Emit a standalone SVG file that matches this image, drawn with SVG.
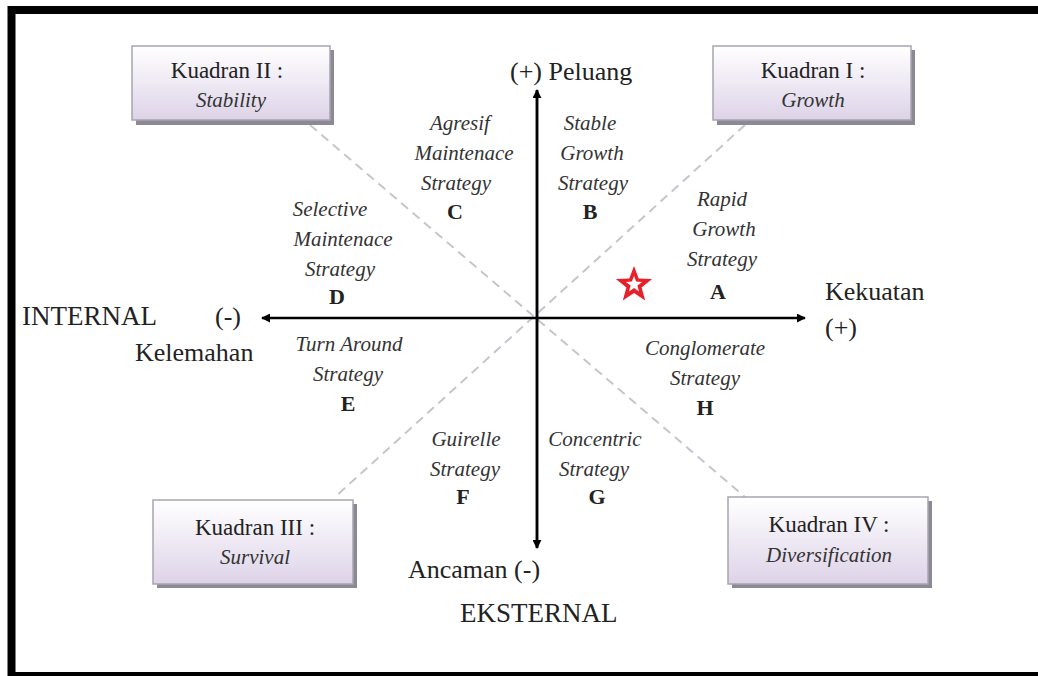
<svg xmlns="http://www.w3.org/2000/svg" width="1038" height="676" viewBox="0 0 1038 676">
<style>
.t{font-family:"Liberation Serif","Times New Roman",serif;fill:#222;font-size:26px}
.k{font-size:23px}
.i{font-style:italic;fill:#333;font-size:21px}
.b{font-weight:bold;font-size:22px}
.big{font-size:27px}
.box{fill:url(#g);stroke:#a8a4b0;stroke-width:1.5}
.sh{fill:#8c8894}
.dash{stroke:#c4c6cc;stroke-width:2;stroke-dasharray:9 6;fill:none}
.axis{stroke:#000;stroke-width:2.5;fill:none}
</style>
<defs>
<linearGradient id="g" x1="0" y1="0" x2="0" y2="1">
<stop offset="0" stop-color="#ffffff"/>
<stop offset="1" stop-color="#ddd3e8"/>
</linearGradient>
<marker id="ah" viewBox="0 0 10 10" refX="9" refY="5" markerWidth="9" markerHeight="9" markerUnits="userSpaceOnUse" orient="auto">
<path d="M0,0 L10,5 L0,10 z" fill="#000"/>
</marker>
</defs>
<rect x="0" y="0" width="1038" height="676" fill="#fff"/>
<rect x="11.5" y="10" width="1040" height="666" fill="none" stroke="#000" stroke-width="8"/>
<g id="connectors">
<line class="dash" x1="310" y1="125" x2="745" y2="497"/>
<line class="dash" x1="745" y1="125" x2="335" y2="497"/>
<line class="axis" x1="537" y1="548" x2="537" y2="90" marker-end="url(#ah)"/>
<line class="axis" x1="537" y1="90" x2="537" y2="548" marker-end="url(#ah)"/>
<line class="axis" x1="537" y1="318" x2="805" y2="318" marker-end="url(#ah)"/>
<line class="axis" x1="537" y1="318" x2="262" y2="318" marker-end="url(#ah)"/>
</g>
<g id="kuadran2">
<rect class="sh" x="136" y="50" width="198" height="75"/>
<rect class="box" x="132" y="46" width="198" height="74"/>
<text class="t k" x="227" y="78" text-anchor="middle">Kuadran II :</text>
<text class="t i" x="231" y="107" text-anchor="middle">Stability</text>
</g>
<g id="kuadran1">
<rect class="sh" x="717" y="50" width="198" height="75"/>
<rect class="box" x="713" y="46" width="198" height="74"/>
<text class="t k" x="813" y="78" text-anchor="middle">Kuadran I :</text>
<text class="t i" x="813" y="107" text-anchor="middle">Growth</text>
</g>
<g id="kuadran3">
<rect class="sh" x="157" y="504" width="200" height="84"/>
<rect class="box" x="153" y="500" width="200" height="84"/>
<text class="t k" x="255" y="535" text-anchor="middle">Kuadran III :</text>
<text class="t i" x="255" y="564" text-anchor="middle">Survival</text>
</g>
<g id="kuadran4">
<rect class="sh" x="732" y="501" width="200" height="87"/>
<rect class="box" x="728" y="497" width="200" height="87"/>
<text class="t k" x="829" y="532" text-anchor="middle">Kuadran IV :</text>
<text class="t i" x="829" y="562" text-anchor="middle">Diversification</text>
</g>
<g id="peluang"><text class="t" x="510" y="80">(+) Peluang</text></g>
<g id="strategyC">
<text class="t i" x="460" y="130" text-anchor="middle">Agresif</text>
<text class="t i" x="464" y="160" text-anchor="middle">Maintenace</text>
<text class="t i" x="456" y="190" text-anchor="middle">Strategy</text>
<text class="t b" x="455" y="219" text-anchor="middle">C</text>
</g>
<g id="strategyB">
<text class="t i" x="590" y="130" text-anchor="middle">Stable</text>
<text class="t i" x="592" y="160" text-anchor="middle">Growth</text>
<text class="t i" x="593" y="190" text-anchor="middle">Strategy</text>
<text class="t b" x="590" y="219" text-anchor="middle">B</text>
</g>
<g id="strategyA">
<text class="t i" x="722" y="206" text-anchor="middle">Rapid</text>
<text class="t i" x="724" y="236" text-anchor="middle">Growth</text>
<text class="t i" x="722" y="266" text-anchor="middle">Strategy</text>
<text class="t b" x="718" y="299" text-anchor="middle">A</text>
</g>
<g id="strategyD">
<text class="t i" x="330" y="216" text-anchor="middle">Selective</text>
<text class="t i" x="343" y="246" text-anchor="middle">Maintenace</text>
<text class="t i" x="340" y="276" text-anchor="middle">Strategy</text>
<text class="t b" x="337" y="304" text-anchor="middle">D</text>
</g>
<g id="internal">
<text class="t big" x="22" y="325">INTERNAL</text>
<text class="t" x="215" y="325">(-)</text>
<text class="t" x="135" y="361">Kelemahan</text>
</g>
<g id="kekuatan">
<text class="t" x="825" y="300">Kekuatan</text>
<text class="t" x="825" y="336">(+)</text>
</g>
<g id="strategyE">
<text class="t i" x="349" y="351" text-anchor="middle">Turn Around</text>
<text class="t i" x="348" y="381" text-anchor="middle">Strategy</text>
<text class="t b" x="348" y="411" text-anchor="middle">E</text>
</g>
<g id="strategyH">
<text class="t i" x="705" y="355" text-anchor="middle">Conglomerate</text>
<text class="t i" x="705" y="385" text-anchor="middle">Strategy</text>
<text class="t b" x="705" y="415" text-anchor="middle">H</text>
</g>
<g id="strategyF">
<text class="t i" x="466" y="446" text-anchor="middle">Guirelle</text>
<text class="t i" x="465" y="476" text-anchor="middle">Strategy</text>
<text class="t b" x="463" y="504" text-anchor="middle">F</text>
</g>
<g id="strategyG">
<text class="t i" x="595" y="446" text-anchor="middle">Concentric</text>
<text class="t i" x="594" y="476" text-anchor="middle">Strategy</text>
<text class="t b" x="597" y="504" text-anchor="middle">G</text>
</g>
<g id="ancaman"><text class="t" x="408" y="578">Ancaman (-)</text></g>
<g id="eksternal"><text class="t big" x="460" y="622">EKSTERNAL</text></g>
<g id="star">
<polygon points="634,266 638.7,278.5 652.1,279.1 641.6,287.4 645.2,300.4 634,293 622.8,300.4 626.4,287.4 615.9,279.1 629.3,278.5" fill="#e8202a"/>
<polygon points="634,276 636.1,281.6 642.1,281.9 637.4,285.6 639,291.4 634,288.1 629,291.4 630.6,285.6 625.9,281.9 631.9,281.6" fill="#fff"/>
</g>
</svg>
